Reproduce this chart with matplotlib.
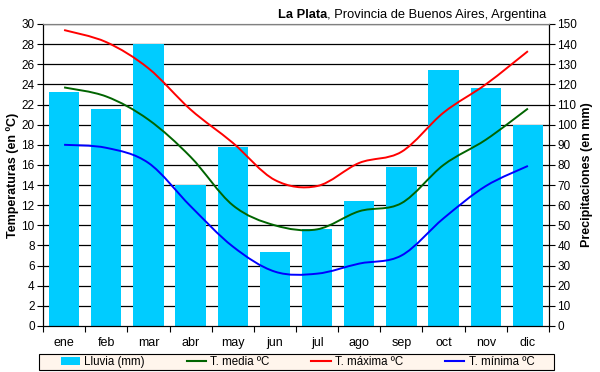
import numpy as np
import matplotlib
matplotlib.use("Agg")
import matplotlib.pyplot as plt
from matplotlib.path import Path
from matplotlib.patches import PathPatch, Patch, Rectangle
from matplotlib.lines import Line2D

plt.rcParams['font.family'] = ['Liberation Sans', 'DejaVu Sans']

meses = ['ene', 'feb', 'mar', 'abr', 'may', 'jun', 'jul', 'ago', 'sep', 'oct', 'nov', 'dic']
lluvia = [116, 108, 140, 70, 89, 37, 48, 62, 79, 127, 118, 100]
t_media = [23.7, 22.8, 20.5, 16.8, 12.0, 10.0, 9.6, 11.4, 12.2, 16.0, 18.5, 21.6]
t_maxima = [29.4, 28.2, 25.6, 21.5, 18.2, 14.5, 13.9, 16.2, 17.3, 21.2, 24.0, 27.3]
t_minima = [18.0, 17.7, 16.2, 11.9, 7.9, 5.4, 5.2, 6.2, 7.0, 10.7, 13.9, 15.9]


def smooth_path(x, y):
    # Catmull-Rom style bezier, like Excel smoothed lines
    pts = np.column_stack([x, y]).astype(float)
    verts = [pts[0]]
    codes = [Path.MOVETO]
    n = len(pts)
    for i in range(n - 1):
        p0 = pts[i - 1] if i > 0 else pts[i]
        p1 = pts[i]
        p2 = pts[i + 1]
        p3 = pts[i + 2] if i + 2 < n else pts[i + 1]
        c1 = p1 + (p2 - p0) / 6.0
        c2 = p2 - (p3 - p1) / 6.0
        verts += [c1, c2, p2]
        codes += [Path.CURVE4] * 3
    return Path(verts, codes)


fig = plt.figure(figsize=(6, 3.72), dpi=100)
ax_p = fig.add_axes([43 / 600, 46 / 372, 506 / 600, 302 / 372])
ax_t = ax_p.twinx()
x = np.arange(len(meses))

# precipitation bars (right axis)
ax_p.bar(x, lluvia, width=0.72, color='#00CCFF', zorder=2)
ax_p.set_ylim(0, 150)
ax_p.set_yticks(np.arange(0, 151, 10))
for v in range(10, 151, 10):
    ax_p.axhline(v, color='#000000', lw=0.9, zorder=1)
ax_p.set_xlim(-0.5, 11.5)
ax_p.set_xticks(x)
ax_p.set_xticklabels(meses, fontsize=9)
ax_p.tick_params(axis='x', which='major', length=0, pad=8)
ax_p.set_xticks(np.arange(-0.5, 12, 1), minor=True)
ax_p.tick_params(axis='x', which='minor', length=4, direction='out', width=0.8)
ax_p.yaxis.tick_right()
ax_p.yaxis.set_label_position('right')
ax_p.set_ylabel('Precipitaciones (en mm)', fontsize=9, fontweight='bold', labelpad=3)
ax_p.tick_params(axis='y', length=4, width=0.8, labelsize=8.5, pad=2)

# temperature lines (left axis)
ax_t.set_ylim(0, 30)
ax_t.set_yticks(np.arange(0, 31, 2))
ax_t.yaxis.tick_left()
ax_t.yaxis.set_label_position('left')
ax_t.set_ylabel('Temperaturas (en ºC)', fontsize=9, fontweight='bold', labelpad=2)
ax_t.tick_params(axis='y', length=4, width=0.8, labelsize=8.5, pad=2)

series = [(t_media, '#006400'), (t_maxima, '#FF0000'), (t_minima, '#0000FF')]
for vals, col in series:
    ax_t.add_patch(PathPatch(smooth_path(x, vals), fill=False, edgecolor=col,
                             lw=1.4, transform=ax_t.transData, zorder=3))

for a in (ax_p, ax_t):
    a.spines['top'].set_color('#808080')
    for s in ('left', 'right', 'bottom'):
        a.spines[s].set_color('black')
        a.spines[s].set_linewidth(0.8)

# title: bold place name followed by the rest
t1 = fig.text(278 / 600, 1 - 18 / 372, 'La Plata', fontsize=9.3, fontweight='bold',
              ha='left', va='baseline')
fig.add_artist(plt.Annotation(', Provincia de Buenos Aires, Argentina', xy=(1, 0),
                              xycoords=t1, fontsize=9.3, ha='left', va='bottom'))

# legend box
fig.add_artist(Rectangle((39 / 600, 2 / 372), 515 / 600, 16 / 372,
                         transform=fig.transFigure, facecolor='#FFF5EC',
                         edgecolor='black', lw=0.8, zorder=0))
handles = [Patch(facecolor='#00CCFF', edgecolor='none'),
           Line2D([], [], color='#006400', lw=1.5),
           Line2D([], [], color='#FF0000', lw=1.5),
           Line2D([], [], color='#0000FF', lw=1.5)]
labels = ['Lluvia (mm)', 'T. media ºC', 'T. máxima ºC', 'T. mínima ºC']
leg = fig.legend(handles, labels, loc='lower left', ncol=4, mode='expand',
                 bbox_to_anchor=(59 / 600, 2 / 372, 477 / 600, 16 / 372),
                 fontsize=8.3, frameon=False, borderpad=0.15,
                 handlelength=1.7, handleheight=0.7, handletextpad=0.35,
                 borderaxespad=0, columnspacing=1.0)

fig.savefig('out.png', dpi=100)
